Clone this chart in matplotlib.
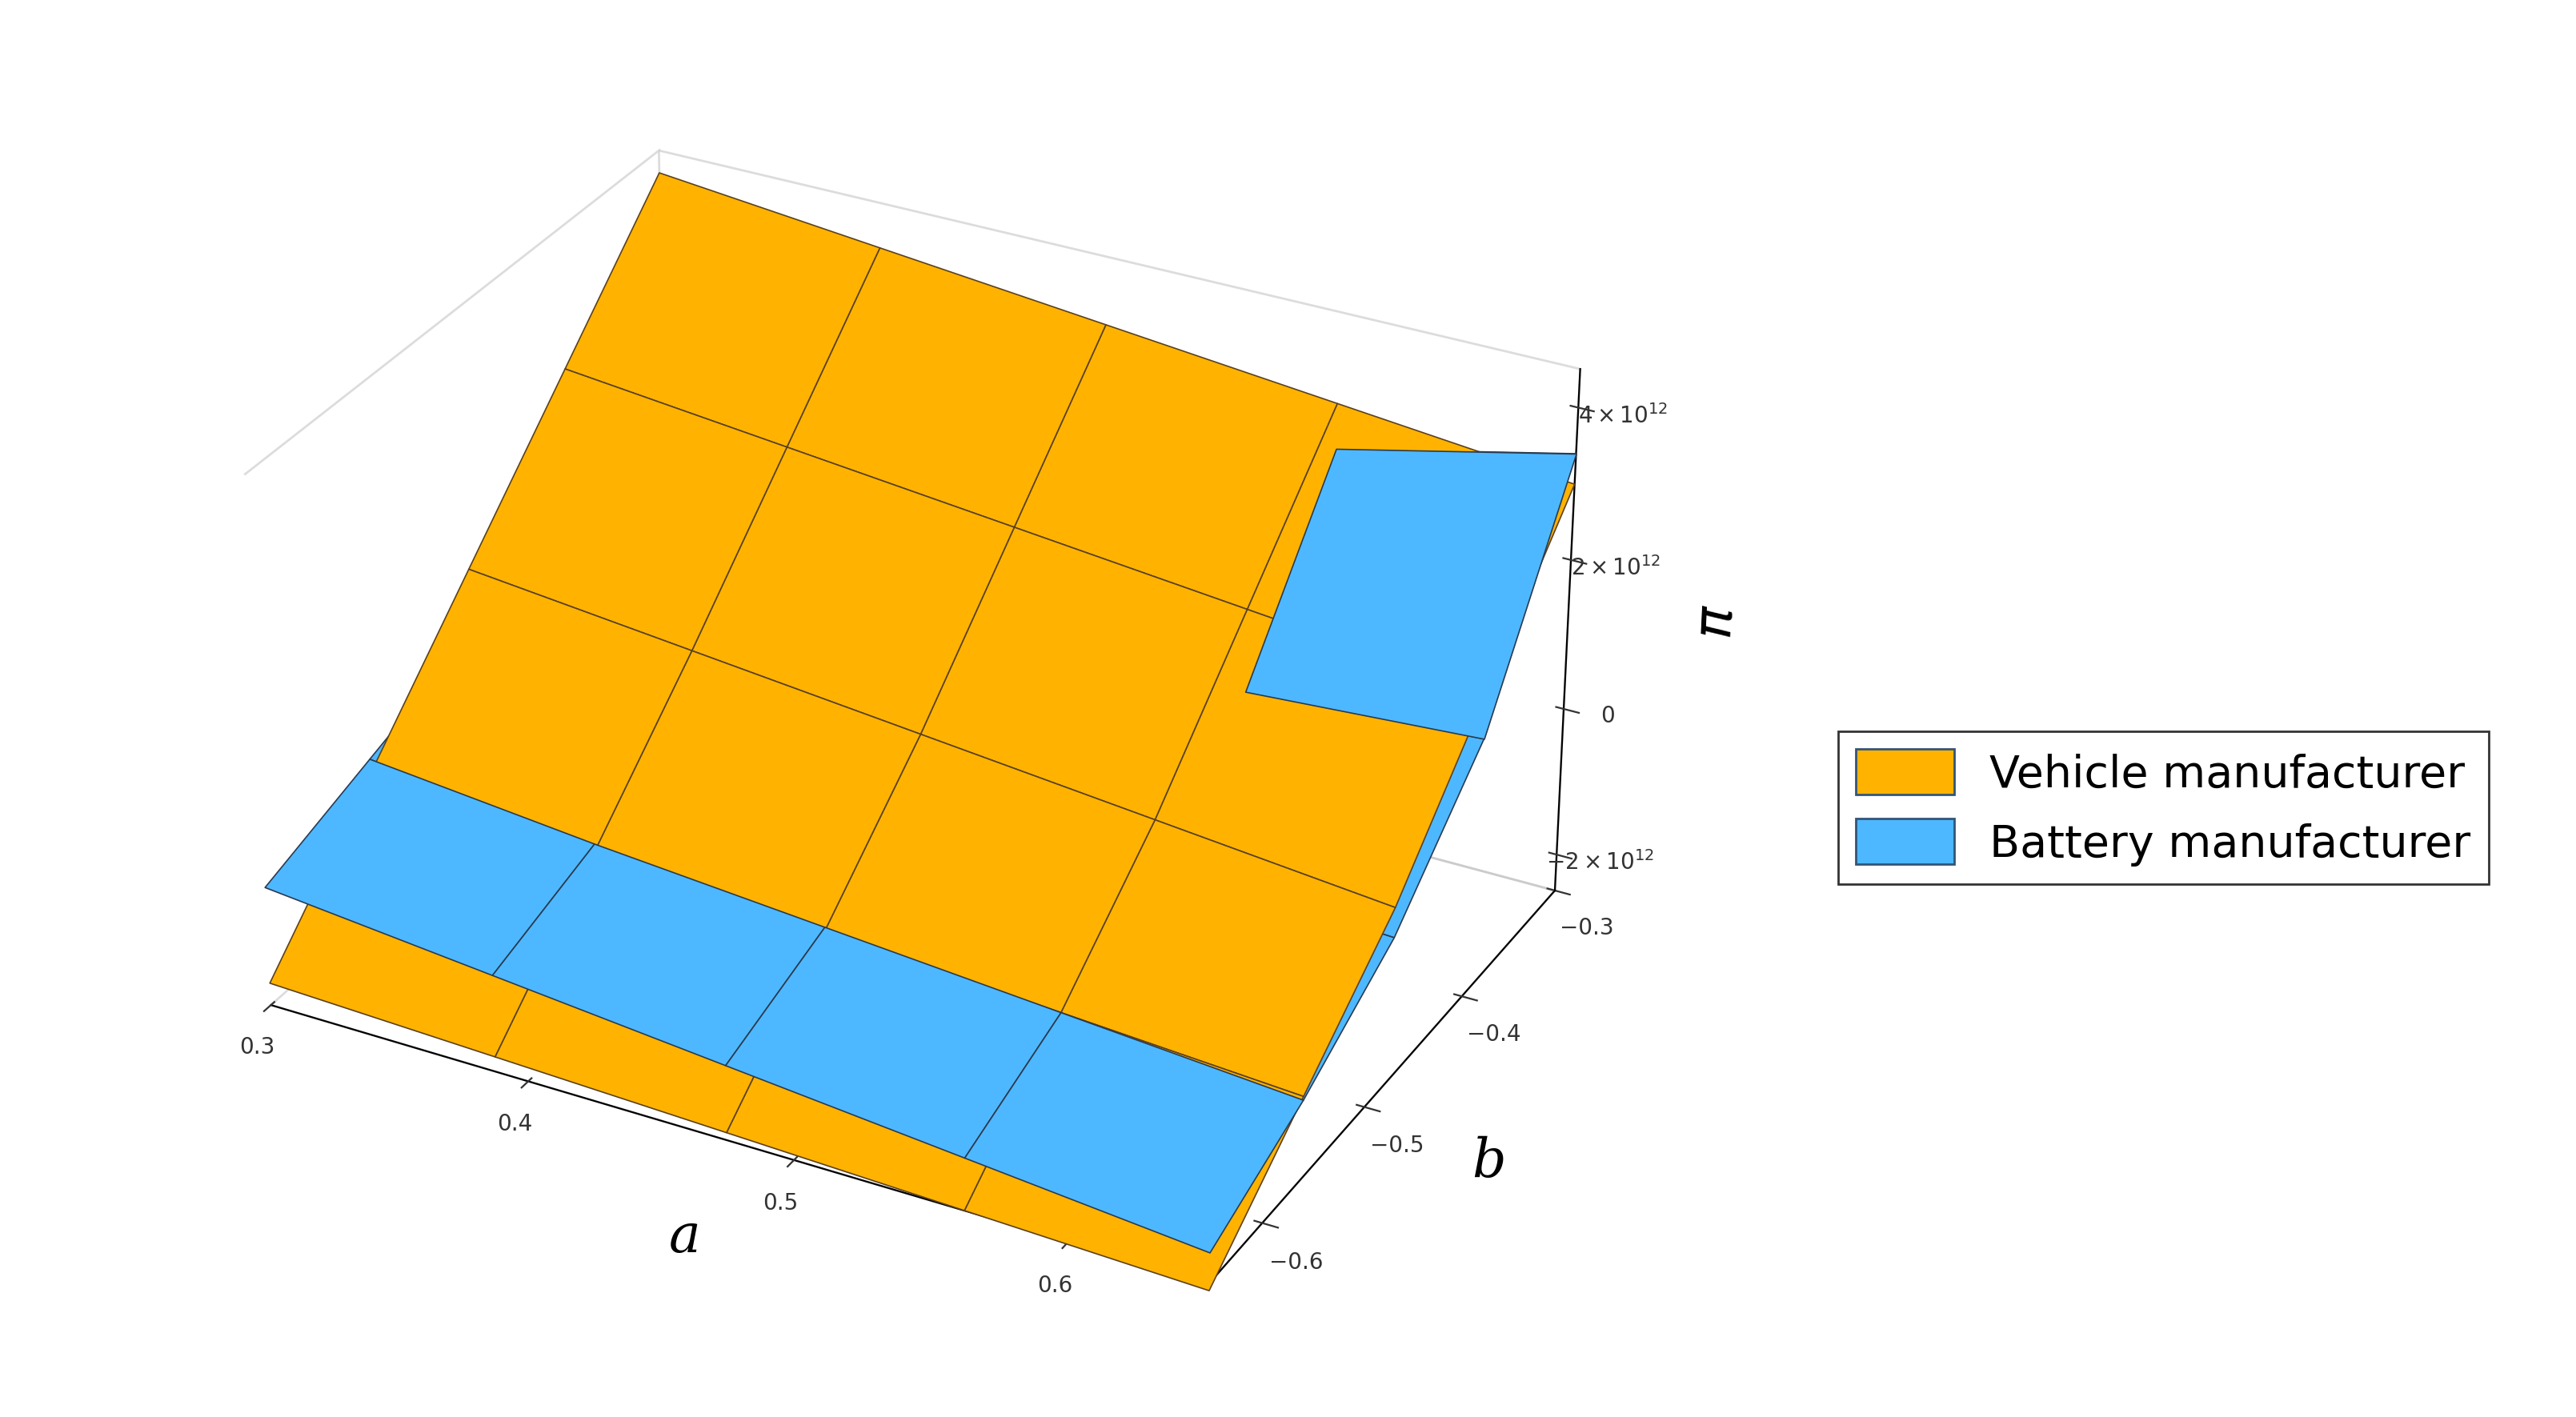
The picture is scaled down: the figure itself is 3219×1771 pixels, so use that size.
import numpy as np
import matplotlib.pyplot as plt
from matplotlib.patches import Patch

# grid (values in units of 1e12)
a_vals = [0.3, 0.3875, 0.475, 0.5625, 0.65]
b_vals = [-0.65, -0.5625, -0.475, -0.3875, -0.3]

# rows follow b, columns follow a
vehicle = [
    [-2.2, -2.3, -2.4, -2.5, -2.6],
    [-0.6, -0.8, -1.0, -1.2, -1.4],
    [1.0, 0.7, 0.4, 0.1, -0.2],
    [2.6, 2.3, 2.0, 1.7, 1.4],
    [4.2, 3.9, 3.6, 3.3, 3.0],
]
battery = [
    [-0.9, -1.2, -1.5, -1.8, -2.1],
    [-0.4, -0.7, -0.95, -1.2, -1.45],
    [0.1, -0.1, -0.3, -0.45, -0.6],
    [0.6, 0.5, 0.5, 0.6, 0.8],
    [1.1, 1.5, 2.1, 2.7, 3.4],
]

z_ticks = [-2, 0, 2, 4]
z_labels = [r'$-2\times10^{12}$', '0', r'$2\times10^{12}$', r'$4\times10^{12}$']

A, B = np.meshgrid(a_vals, b_vals)
V = np.array(vehicle)
Bt = np.array(battery)
orange, blue = '#ffb300', '#4db8ff'

fig = plt.figure(figsize=(16.095, 8.855), dpi=200)
ax = fig.add_axes([0.0, 0.0, 0.7, 1.0], projection='3d', computed_zorder=False)

# hidden part of blue first, then orange, then the blue parts that lie above
ax.plot_surface(A[1:], B[1:], Bt[1:], color=blue, edgecolor='#2a3a50',
                linewidth=0.6, shade=False, zorder=1)
ax.plot_surface(A, B, V, color=orange, edgecolor='#5a4020',
                linewidth=0.6, shade=False, zorder=2)
ax.plot_surface(A[:2], B[:2], Bt[:2], color=blue, edgecolor='#2a3a50',
                linewidth=0.6, shade=False, zorder=3)
ax.plot_surface(A[3:, 3:], B[3:, 3:], Bt[3:, 3:], color=blue, edgecolor='#2a3a50',
                linewidth=0.6, shade=False, zorder=3)

ax.set_xlim(0.3, 0.65)
ax.set_ylim(-0.65, -0.3)
ax.set_zlim(-2.5, 4.5)
ax.set_xticks([0.3, 0.4, 0.5, 0.6])
ax.set_yticks([-0.6, -0.5, -0.4, -0.3])
ax.set_zticks(z_ticks)
ax.set_zticklabels(z_labels)
ax.tick_params(labelsize=10, colors='#333333')
ax.set_xlabel('a', fontsize=24, fontstyle='italic', family='serif', labelpad=14)
ax.set_ylabel('b', fontsize=24, fontstyle='italic', family='serif', labelpad=14)
ax.set_zlabel(r'$\pi$', fontsize=24, labelpad=18)
ax.grid(False)
for axis in (ax.xaxis, ax.yaxis, ax.zaxis):
    axis.pane.fill = False
    axis.pane.set_edgecolor('#bbbbbb')
ax.view_init(elev=30, azim=-62)
ax.set_box_aspect((1.3, 1, 0.75), zoom=1.0)

handles = [Patch(facecolor=orange, edgecolor='#335577', label='Vehicle manufacturer'),
           Patch(facecolor=blue, edgecolor='#335577', label='Battery manufacturer')]
fig.legend(handles=handles, loc='center left', bbox_to_anchor=(0.705, 0.43),
           fontsize=20, frameon=True, fancybox=False, edgecolor='black',
           handlelength=2.2, handleheight=1.2)

fig.savefig('out.png', dpi=200)
